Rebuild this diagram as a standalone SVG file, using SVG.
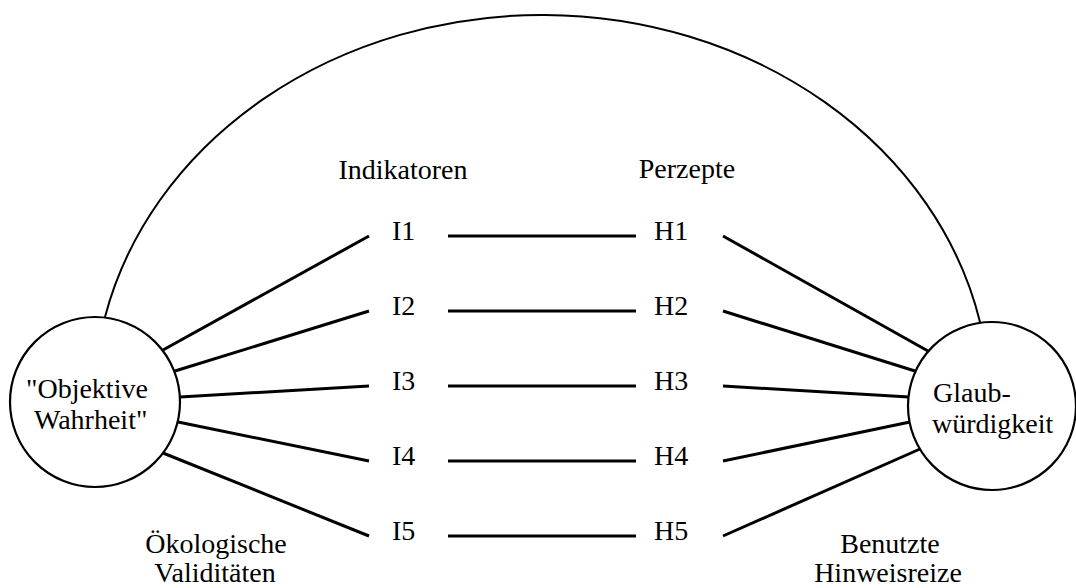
<svg xmlns="http://www.w3.org/2000/svg" width="1076" height="588" viewBox="0 0 1076 588" font-family="'Liberation Serif', 'DejaVu Serif', serif">
  <style>
    text { font-family: 'Liberation Serif', 'DejaVu Serif', serif; font-size: 28px; fill: #000; }
    .mid { text-anchor: middle; }
    .node { fill: #fff; stroke: #000; stroke-width: 2.2; }
    .edge { stroke: #000; stroke-width: 3; fill: none; stroke-linecap: butt; }
    .arc { stroke: #000; stroke-width: 2; fill: none; }
  </style>
  <rect width="1076" height="588" fill="#fff"/>

  <!-- connectors -->
  <g id="connectors">
    <path class="arc" d="M105,317 A448,388 0 0 1 980,322"/>
    <!-- truth to indicators -->
    <line class="edge" x1="163" y1="350" x2="369" y2="236"/>
    <line class="edge" x1="175" y1="371" x2="369" y2="311"/>
    <line class="edge" x1="180" y1="397" x2="369" y2="386"/>
    <line class="edge" x1="178" y1="422" x2="369" y2="461"/>
    <line class="edge" x1="163" y1="453" x2="369" y2="536"/>
    <!-- indicators to percepts -->
    <line class="edge" x1="448" y1="236" x2="636" y2="236"/>
    <line class="edge" x1="448" y1="311" x2="636" y2="311"/>
    <line class="edge" x1="448" y1="386" x2="636" y2="386"/>
    <line class="edge" x1="448" y1="461" x2="636" y2="461"/>
    <line class="edge" x1="448" y1="536" x2="636" y2="536"/>
    <!-- percepts to credibility -->
    <line class="edge" x1="723" y1="236" x2="928" y2="351"/>
    <line class="edge" x1="723" y1="311" x2="915" y2="371"/>
    <line class="edge" x1="723" y1="386" x2="909" y2="397"/>
    <line class="edge" x1="723" y1="461" x2="910" y2="422"/>
    <line class="edge" x1="723" y1="536" x2="920" y2="449"/>
  </g>

  <g id="wahrheit">
    <circle class="node" cx="95" cy="402" r="85"/>
    <text x="26" y="398" font-family="Liberation Serif">"Objektive</text>
    <text x="34" y="429" font-family="Liberation Serif">Wahrheit"</text>
  </g>

  <g id="glaubwuerdigkeit">
    <circle class="node" cx="992" cy="406" r="84"/>
    <text x="933" y="402">Glaub-</text>
    <text x="932" y="433">würdigkeit</text>
  </g>

  <g id="I1"><text x="392" y="240">I1</text></g>
  <g id="I2"><text x="392" y="315">I2</text></g>
  <g id="I3"><text x="392" y="390">I3</text></g>
  <g id="I4"><text x="392" y="465">I4</text></g>
  <g id="I5"><text x="392" y="540">I5</text></g>

  <g id="H1"><text x="654" y="240">H1</text></g>
  <g id="H2"><text x="654" y="315">H2</text></g>
  <g id="H3"><text x="654" y="390">H3</text></g>
  <g id="H4"><text x="654" y="465">H4</text></g>
  <g id="H5"><text x="654" y="540">H5</text></g>

  <g id="labels">
    <text class="mid" x="403" y="179">Indikatoren</text>
    <text class="mid" x="687" y="178">Perzepte</text>
    <text class="mid" x="216" y="553">Ökologische</text>
    <text class="mid" x="215" y="582">Validitäten</text>
    <text class="mid" x="890" y="553">Benutzte</text>
    <text class="mid" x="888" y="582">Hinweisreize</text>
  </g>
</svg>
